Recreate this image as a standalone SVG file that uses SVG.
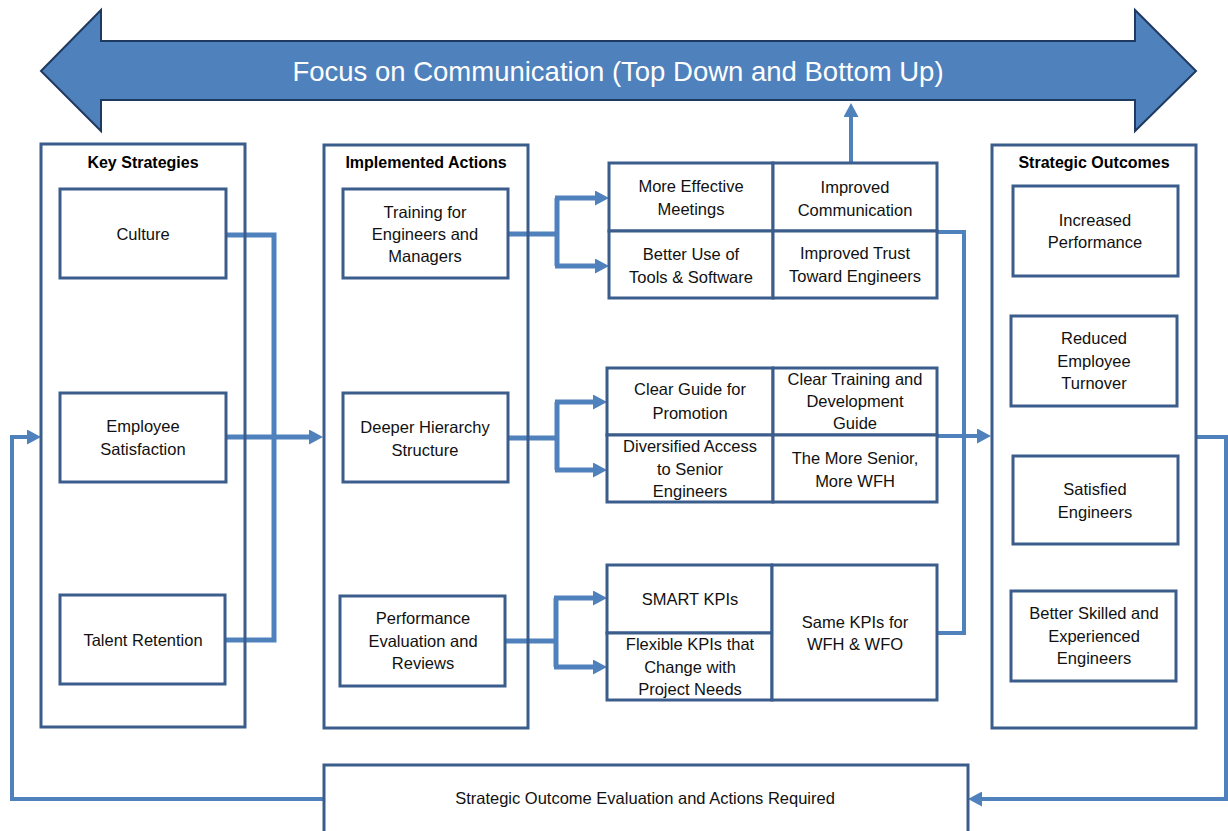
<svg xmlns="http://www.w3.org/2000/svg" width="1228" height="831" viewBox="0 0 1228 831">
  <style>
    .frame { fill: none; stroke: #3B5D8C; stroke-width: 3; }
    .box { fill: #ffffff; stroke: #3B5D8C; stroke-width: 3; }
    .t { font-family: "Liberation Sans", Arial, sans-serif; font-size: 16.5px; fill: #111111; text-anchor: middle; }
    .h { font-family: "Liberation Sans", Arial, sans-serif; font-size: 16px; font-weight: bold; fill: #000000; text-anchor: middle; }
    .link { fill: none; stroke: #4F81BD; stroke-width: 5; stroke-linejoin: miter; }
    .thin { stroke-width: 4; }
    .arrowed { marker-end: url(#ah); }
  </style>
  <defs>
    <marker id="ah" markerUnits="userSpaceOnUse" viewBox="0 0 14 15" markerWidth="14" markerHeight="15" refX="1" refY="7.5" orient="auto">
      <path d="M0,0 L14,7.5 L0,15 z" fill="#4F81BD"/>
    </marker>
  </defs>
  <rect width="1228" height="831" fill="#ffffff"/>

  <!-- double-headed banner -->
  <g id="banner">
    <polygon points="41,71 101,10 101,41 1135,41 1135,10 1196,71 1135,131 1135,100 101,100 101,131" fill="#4F81BD" stroke="#1F3A5F" stroke-width="2" stroke-linejoin="miter"/>
    <text x="618" y="81" font-family="'Liberation Sans', Arial, sans-serif" font-size="27.5" fill="#ffffff" text-anchor="middle">Focus on Communication (Top Down and Bottom Up)</text>
  </g>

  <!-- connectors -->
  <g id="connectors">
    <path class="link" d="M226,235 H274 V640 H226"/>
    <path class="link arrowed" d="M226,437 H310"/>
    <path class="link" d="M508,234 H557 M557,198 V266"/>
    <path class="link arrowed" d="M555,198 H596"/>
    <path class="link arrowed" d="M555,266 H596"/>
    <path class="link" d="M508,438 H557 M557,402 V470"/>
    <path class="link arrowed" d="M555,402 H594"/>
    <path class="link arrowed" d="M555,470 H594"/>
    <path class="link" d="M505,641 H556 M556,598 V667"/>
    <path class="link arrowed" d="M554,598 H594"/>
    <path class="link arrowed" d="M554,667 H594"/>
    <path class="link thin" d="M937,232 H964 V633 H937"/>
    <path class="link thin arrowed" d="M937,436 H978"/>
    <path class="link thin arrowed" d="M851,163 V116"/>
    <path class="link thin arrowed" d="M1196,437 H1226 V799 H981"/>
    <path class="link thin arrowed" d="M324,799 H12 V437 H28"/>
  </g>

  <!-- column 1 -->
  <g id="key-strategies">
    <rect class="frame" x="41" y="144" width="204" height="583"/>
    <text class="h" x="143" y="168">Key Strategies</text>
  </g>
  <g id="culture">
    <rect class="box" x="60" y="189" width="166" height="89"/>
    <text class="t" x="143" y="240">Culture</text>
  </g>
  <g id="employee-satisfaction">
    <rect class="box" x="60" y="393" width="166" height="89"/>
    <text class="t" x="143" y="432">Employee</text>
    <text class="t" x="143" y="455">Satisfaction</text>
  </g>
  <g id="talent-retention">
    <rect class="box" x="60" y="595" width="165" height="89"/>
    <text class="t" x="143" y="646">Talent Retention</text>
  </g>

  <!-- column 2 -->
  <g id="implemented-actions">
    <rect class="frame" x="324" y="145" width="204" height="583"/>
    <text class="h" x="426" y="168">Implemented Actions</text>
  </g>
  <g id="training">
    <rect class="box" x="343" y="189" width="165" height="89"/>
    <text class="t" x="425" y="218">Training for</text>
    <text class="t" x="425" y="240">Engineers and</text>
    <text class="t" x="425" y="262">Managers</text>
  </g>
  <g id="deeper-hierarchy">
    <rect class="box" x="343" y="393" width="165" height="89"/>
    <text class="t" x="425" y="433">Deeper Hierarchy</text>
    <text class="t" x="425" y="456">Structure</text>
  </g>
  <g id="performance-evaluation">
    <rect class="box" x="340" y="596" width="165" height="90"/>
    <text class="t" x="423" y="624">Performance</text>
    <text class="t" x="423" y="647">Evaluation and</text>
    <text class="t" x="423" y="669">Reviews</text>
  </g>

  <!-- training results -->
  <g id="effective-meetings">
    <rect class="box" x="609" y="163" width="164" height="68"/>
    <text class="t" x="691" y="192">More Effective</text>
    <text class="t" x="691" y="215">Meetings</text>
  </g>
  <g id="improved-communication">
    <rect class="box" x="773" y="163" width="164" height="68"/>
    <text class="t" x="855" y="193">Improved</text>
    <text class="t" x="855" y="216">Communication</text>
  </g>
  <g id="tools-software">
    <rect class="box" x="609" y="231" width="164" height="67"/>
    <text class="t" x="691" y="260">Better Use of</text>
    <text class="t" x="691" y="283">Tools &amp; Software</text>
  </g>
  <g id="improved-trust">
    <rect class="box" x="773" y="231" width="164" height="67"/>
    <text class="t" x="855" y="259">Improved Trust</text>
    <text class="t" x="855" y="282">Toward Engineers</text>
  </g>

  <!-- hierarchy results -->
  <g id="promotion-guide">
    <rect class="box" x="607" y="368" width="166" height="67"/>
    <text class="t" x="690" y="395">Clear Guide for</text>
    <text class="t" x="690" y="419">Promotion</text>
  </g>
  <g id="training-guide">
    <rect class="box" x="773" y="368" width="164" height="67"/>
    <text class="t" x="855" y="385">Clear Training and</text>
    <text class="t" x="855" y="407">Development</text>
    <text class="t" x="855" y="429">Guide</text>
  </g>
  <g id="senior-access">
    <rect class="box" x="607" y="435" width="166" height="67"/>
    <text class="t" x="690" y="452">Diversified Access</text>
    <text class="t" x="690" y="475">to Senior</text>
    <text class="t" x="690" y="497">Engineers</text>
  </g>
  <g id="senior-wfh">
    <rect class="box" x="773" y="435" width="164" height="67"/>
    <text class="t" x="855" y="464">The More Senior,</text>
    <text class="t" x="855" y="487">More WFH</text>
  </g>

  <!-- evaluation results -->
  <g id="smart-kpis">
    <rect class="box" x="607" y="565" width="165" height="68"/>
    <text class="t" x="690" y="605">SMART KPIs</text>
  </g>
  <g id="flexible-kpis">
    <rect class="box" x="607" y="633" width="165" height="67"/>
    <text class="t" x="690" y="650">Flexible KPIs that</text>
    <text class="t" x="690" y="673">Change with</text>
    <text class="t" x="690" y="695">Project Needs</text>
  </g>
  <g id="same-kpis">
    <rect class="box" x="772" y="565" width="165" height="135"/>
    <text class="t" x="855" y="628">Same KPIs for</text>
    <text class="t" x="855" y="650">WFH &amp; WFO</text>
  </g>

  <!-- column 4 -->
  <g id="strategic-outcomes">
    <rect class="frame" x="992" y="145" width="204" height="583"/>
    <text class="h" x="1094" y="168">Strategic Outcomes</text>
  </g>
  <g id="increased-performance">
    <rect class="box" x="1013" y="186" width="165" height="90"/>
    <text class="t" x="1095" y="226">Increased</text>
    <text class="t" x="1095" y="248">Performance</text>
  </g>
  <g id="reduced-turnover">
    <rect class="box" x="1011" y="316" width="166" height="90"/>
    <text class="t" x="1094" y="344">Reduced</text>
    <text class="t" x="1094" y="367">Employee</text>
    <text class="t" x="1094" y="389">Turnover</text>
  </g>
  <g id="satisfied-engineers">
    <rect class="box" x="1013" y="456" width="165" height="88"/>
    <text class="t" x="1095" y="495">Satisfied</text>
    <text class="t" x="1095" y="518">Engineers</text>
  </g>
  <g id="skilled-engineers">
    <rect class="box" x="1011" y="591" width="165" height="90"/>
    <text class="t" x="1094" y="619">Better Skilled and</text>
    <text class="t" x="1094" y="642">Experienced</text>
    <text class="t" x="1094" y="664">Engineers</text>
  </g>

  <!-- feedback box -->
  <g id="outcome-evaluation">
    <rect class="box" x="324" y="765" width="644" height="80"/>
    <text class="t" x="645" y="804">Strategic Outcome Evaluation and Actions Required</text>
  </g>
</svg>
